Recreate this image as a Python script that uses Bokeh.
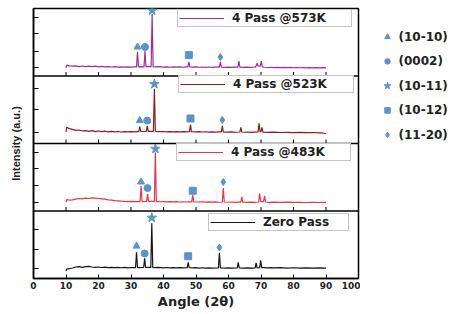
from bokeh.plotting import figure
from bokeh.layouts import row
from bokeh.models import FixedTicker, Legend, LegendItem, Span
from bokeh.core.properties import value
from bokeh.embed import file_html
from bokeh.resources import INLINE

# ---- XRD patterns (intensity in per-panel units 0-100) ----
angle_573 = [10.0, 10.2, 11, 12, 13, 14, 15, 16, 17, 18, 19, 20, 21, 22, 23, 24, 25, 26, 27, 28, 29, 30, 31,
             31.7, 32.0, 32.3, 33, 34.0, 34.3, 34.6, 35.5, 36.2, 36.5, 36.8, 37.5, 38.5, 40, 41, 42, 43, 44,
             45, 46, 47, 47.5, 47.8, 48.1, 49, 50, 51, 52, 53, 54, 55, 56, 57.2, 57.5, 57.8, 59, 60, 61, 62,
             62.9, 63.2, 63.5, 64.5, 65.5, 66.5, 67.5, 68.2, 68.5, 68.8, 69.1, 69.5, 69.8, 70.1, 70.4, 71,
             72, 73, 74, 75, 76, 77, 78, 79, 80, 81, 82, 83, 84, 85, 86, 87, 88, 89, 90]
counts_573 = [12, 16, 15, 14.5, 15, 14, 14.8, 13.8, 14.5, 14, 14.6, 13.6, 14.2, 13.5, 13.9, 13.3, 13.8, 13.2,
              13.6, 13.1, 13.5, 13.2, 13.6, 13.4, 36, 13.5, 13.8, 13.6, 37, 13.8, 14, 14, 92, 14, 13.4,
              13.8, 13.2, 13.6, 13.0, 13.5, 13.1, 13.4, 13.0, 13.5, 13.6, 21, 13.5, 13.2, 13.5, 13.0, 13.3,
              12.9, 13.3, 12.9, 13.2, 13.2, 21, 13.2, 12.9, 13.2, 12.8, 13.1, 13.2, 22, 13.2, 12.8, 13.1,
              12.7, 13.0, 13.2, 15, 19, 14.5, 14.5, 15, 22, 13.5, 13, 12.6, 13, 12.5, 12.9, 12.4, 12.8,
              12.3, 12.7, 12.2, 12.6, 12.2, 12.5, 12.1, 12.4, 12.1, 12.4, 12.0, 12.3, 12.0]

angle_523 = [10.0, 10.2, 11, 12, 13, 14, 15, 16, 17, 18, 19, 20, 21, 22, 23, 24, 25, 26, 27, 28, 29, 30, 31,
             32, 32.4, 32.7, 33.0, 34.7, 35.0, 35.3, 36.2, 36.9, 37.2, 37.5, 38.5, 40, 41, 42, 43, 44, 45,
             46, 47, 48.0, 48.3, 48.6, 50, 51, 52, 53, 54, 55, 56, 57, 57.8, 58.1, 58.4, 59.5, 61, 62,
             63.5, 63.8, 64.1, 65, 66, 67, 68, 69.1, 69.4, 69.7, 70.0, 70.3, 70.6, 72, 74, 76, 78, 80,
             82, 84, 86, 88, 89, 90]
counts_523 = [17, 24, 22, 21, 19.5, 20, 18.5, 19, 18, 19, 17.5, 18.5, 17.5, 18.2, 17.2, 18, 17.3, 17.8, 17,
              17.6, 17.2, 17.7, 17.2, 17.6, 17.6, 25, 17.8, 17.8, 26, 17.9, 18, 18, 81, 18, 17.5, 17.8,
              17.3, 17.7, 17.2, 17.6, 17.1, 17.5, 17.2, 17.5, 28, 17.4, 17.1, 17.5, 17.0, 17.4, 16.9, 17.3,
              16.9, 17.2, 17.2, 26, 17.2, 16.8, 17.1, 16.7, 17.0, 24, 17, 16.7, 17.0, 16.6, 16.9, 17.2, 30,
              17.5, 17.5, 24, 16.8, 16.5, 16.8, 16.3, 16.6, 16.2, 16.5, 16.0, 16.3, 15.8, 15.6, 14.5]

angle_483 = [10.0, 10.2, 11, 12, 13, 14, 15, 16, 17, 18, 19, 20, 21, 22, 23, 24, 25, 26, 27, 28, 29, 30, 31,
             32, 32.8, 33.1, 33.4, 34.8, 35.1, 35.4, 36.5, 37.2, 37.5, 37.8, 39, 40, 41, 42, 43, 44, 45,
             46, 47, 48, 48.7, 49.0, 49.3, 50.5, 52, 53, 54, 55, 56, 57, 58.1, 58.4, 58.7, 60, 61, 62, 63,
             63.8, 64.1, 64.4, 65.5, 67, 68, 69.3, 69.6, 69.9, 70.5, 70.8, 71.1, 71.4, 72.5, 74, 76, 78,
             80, 82, 84, 86, 88, 90]
counts_483 = [13, 17, 16, 16.5, 17.5, 18.5, 18, 19, 18.5, 19.5, 19, 18.5, 18, 17.5, 16.5, 16, 15.3, 15, 14.5,
              14.2, 14.0, 14.3, 13.8, 14.1, 14.0, 37, 14, 14.2, 25, 14.2, 14.2, 14.2, 87, 14.2, 13.7, 14.0,
              13.5, 13.9, 13.4, 13.8, 13.3, 13.7, 13.3, 13.6, 13.5, 23.5, 13.5, 13.3, 13.6, 13.1, 13.5,
              13.1, 13.4, 13.0, 13.3, 34, 13.3, 13.0, 13.3, 12.9, 13.2, 13.2, 21, 13.2, 12.9, 13.2, 12.9,
              13.3, 26, 14, 14.2, 14, 22, 13.3, 12.9, 13.2, 12.8, 13.1, 12.7, 13.0, 12.6, 12.9, 12.6, 12.8]

angle_zero = [10.0, 10.2, 11, 12, 13, 14, 15, 16, 17, 18, 19, 20, 21, 22, 23, 24, 25, 26, 27, 28, 29, 30,
              31, 31.4, 31.7, 32.0, 33.9, 34.2, 34.5, 35.6, 36.1, 36.4, 36.7, 37.5, 38.5, 40, 41, 42, 43,
              44, 45, 46, 47.3, 47.6, 47.9, 49, 50, 51, 52, 53, 54, 55, 56.9, 57.2, 57.5, 59, 60, 61, 62.7,
              63.0, 63.3, 64.5, 66, 67.5, 68.2, 68.5, 68.8, 69.6, 69.9, 70.2, 71, 72, 73, 74, 76, 78, 80,
              82, 84, 86, 88, 90]
counts_zero = [11, 14, 14.5, 15.5, 17, 17.5, 16.5, 17.5, 18, 17, 16.5, 17, 16.3, 16.8, 16.1, 16.6, 16, 16.5,
               15.9, 16.4, 15.8, 16.3, 16.0, 16.1, 39, 16.2, 16.3, 30, 16.3, 16.5, 16.5, 82, 16.5, 16,
               16.4, 15.8, 16.3, 15.7, 16.2, 15.6, 16.1, 15.7, 16.0, 24, 16, 15.6, 16.0, 15.5, 15.9, 15.4,
               15.8, 15.4, 15.8, 38, 15.8, 15.4, 15.8, 15.3, 15.7, 24, 15.7, 15.3, 15.7, 15.4, 15.8, 23,
               15.8, 16, 27, 16, 16.2, 15.8, 16.2, 15.6, 16, 15.5, 15.9, 15.4, 15.8, 15.3, 15.7, 15.5]

series_labels = ["4 Pass @573K", "4 Pass @523K", "4 Pass @483K", "Zero Pass"]
series_colors = ["#a02ea2", "#8e1b1e", "#ec3444", "#161616"]

# ---- reflection markers: (angle, height) per panel, top to bottom ----
plane_labels = ["(10-10)", "(0002)", "(10-11)", "(10-12)", "(11-20)"]
plane_markers = ["triangle", "circle", "star", "square", "diamond"]
plane_angles = [
    [32.0, 34.3, 36.5, 47.8, 57.5],
    [32.7, 35.0, 37.2, 48.3, 58.1],
    [33.1, 35.1, 37.5, 49.0, 58.4],
    [31.7, 34.2, 36.4, 47.6, 57.2],
]
plane_heights = [
    [43, 43, 97, 31, 28],
    [34, 34, 88, 37, 35],
    [43, 34, 92, 30, 43],
    [48, 37, 90, 33, 46],
]

# y tick positions inside each panel (panel units), top to bottom
panel_ticks = [[12, 37, 63, 87], [16, 50, 82], [13, 38, 63, 87], [15, 43, 72]]
x_ticks = [0, 10, 20, 30, 40, 50, 60, 70, 80, 90, 100]

angles = [angle_573, angle_523, angle_483, angle_zero]
counts = [counts_573, counts_523, counts_483, counts_zero]

PANEL = 100.0
N = len(series_labels)
FRAME_H = 270
MARK_COLOR = "#5b93cc"
TEXT_COLOR = "#222222"

p = figure(width=360, height=314, output_backend="svg", toolbar_location=None,
           x_range=(0, 100), y_range=(0, N * PANEL),
           min_border_left=33, min_border_right=2, min_border_top=8, min_border_bottom=36)
p.background_fill_color = "white"
p.border_fill_color = "white"
p.outline_line_color = "black"
p.outline_line_width = 1.5
p.xgrid.visible = False
p.ygrid.visible = False

# offset of each panel (top panel first)
offsets = [(N - 1 - i) * PANEL for i in range(N)]

line_renderers = []
for i in range(N):
    ys = [c + offsets[i] for c in counts[i]]
    r = p.line(angles[i], ys, line_color=series_colors[i], line_width=1.2)
    line_renderers.append(r)

# panel separators
for i in range(1, N):
    p.add_layout(Span(location=i * PANEL, dimension="width", line_color="black", line_width=1.5))

# inward x ticks on the inner panel boundaries
tick_len = 4 * N * PANEL / FRAME_H
for i in range(1, N):
    inner = x_ticks[1:-1]
    p.segment(x0=inner, y0=[i * PANEL] * len(inner), x1=inner,
              y1=[i * PANEL + tick_len] * len(inner), line_color="black", line_width=1)

# reflection markers
for j in range(len(plane_labels)):
    xs = [plane_angles[i][j] for i in range(N)]
    ys = [plane_heights[i][j] + offsets[i] for i in range(N)]
    size = 10 if plane_markers[j] == "star" else 7
    p.scatter(xs, ys, marker=plane_markers[j], size=size,
              fill_color=MARK_COLOR, line_color=MARK_COLOR)

# axes
p.xaxis.ticker = FixedTicker(ticks=x_ticks)
p.xaxis.major_tick_in = 4
p.xaxis.major_tick_out = 0
p.xaxis.minor_tick_line_color = None
p.xaxis.axis_line_width = 1.5
p.xaxis.major_label_text_font = "DejaVu Sans"
p.xaxis.major_label_text_font_style = "bold"
p.xaxis.major_label_text_font_size = "9px"
p.xaxis.major_label_text_color = TEXT_COLOR
p.xaxis.major_label_standoff = 3
p.xaxis.axis_label = "Angle (2θ)"
p.xaxis.axis_label_text_font = "DejaVu Sans"
p.xaxis.axis_label_text_font_style = "bold"
p.xaxis.axis_label_text_font_size = "13px"
p.xaxis.axis_label_text_color = TEXT_COLOR
p.xaxis.axis_label_standoff = 2

y_tick_positions = []
for i in range(N):
    y_tick_positions += [t + offsets[i] for t in panel_ticks[i]]
y_tick_positions = sorted(y_tick_positions)
p.yaxis.ticker = FixedTicker(ticks=y_tick_positions)
p.yaxis.major_tick_in = 5
p.yaxis.major_tick_out = 0
p.yaxis.minor_tick_line_color = None
p.yaxis.axis_line_width = 1.5
p.yaxis.major_label_overrides = {t: "" for t in y_tick_positions}
p.yaxis.major_label_standoff = 0
p.yaxis.axis_label = "Intensity (a.u.)"
p.yaxis.axis_label_text_font = "Liberation Sans"
p.yaxis.axis_label_text_font_style = "bold"
p.yaxis.axis_label_text_font_size = "11px"
p.yaxis.axis_label_text_color = TEXT_COLOR
p.yaxis.axis_label_standoff = 12

# one boxed legend per panel
legend_spots = [(144, 251), (145, 185), (143, 117), (175, 47)]
legend_label_widths = [118, 119, 118, 84]
for i in range(N):
    leg = Legend(items=[LegendItem(label=series_labels[i], renderers=[line_renderers[i]])],
                 location=legend_spots[i], padding=1, spacing=0, margin=0,
                 glyph_width=45, glyph_height=12, label_height=12,
                 label_width=legend_label_widths[i], label_standoff=8,
                 label_text_font="DejaVu Sans", label_text_font_style="bold",
                 label_text_font_size="12px", label_text_color=TEXT_COLOR,
                 border_line_color="#8c8c8c", border_line_width=1,
                 background_fill_color="white", background_fill_alpha=1.0)
    p.add_layout(leg)

# key for the reflection markers, drawn in pixel-like units beside the plot
KEY_W = 94
key = figure(width=KEY_W, height=314, output_backend="svg", toolbar_location=None,
             x_range=(0, KEY_W), y_range=(314, 0),
             min_border_left=0, min_border_right=0, min_border_top=0, min_border_bottom=0)
key.axis.visible = False
key.grid.visible = False
key.outline_line_color = None
key.background_fill_color = "white"
key.border_fill_color = "white"

key_top, key_step = 33, 28.5
key_y = [key_top + key_step * j for j in range(len(plane_labels))]
for j in range(len(plane_labels)):
    key.scatter([27], [key_y[j]], marker=plane_markers[j], size=7 if plane_markers[j] == "star" else 5.5,
                fill_color=MARK_COLOR, line_color=MARK_COLOR)
key.text(x=[38] * len(plane_labels), y=key_y, text=plane_labels,
         text_font=value("DejaVu Sans"), text_font_style="bold", text_font_size="12px",
         text_color=TEXT_COLOR, text_baseline="middle", text_align="left")

layout = row(p, key, spacing=0)
open("out.html", "w").write(file_html(layout, INLINE))
